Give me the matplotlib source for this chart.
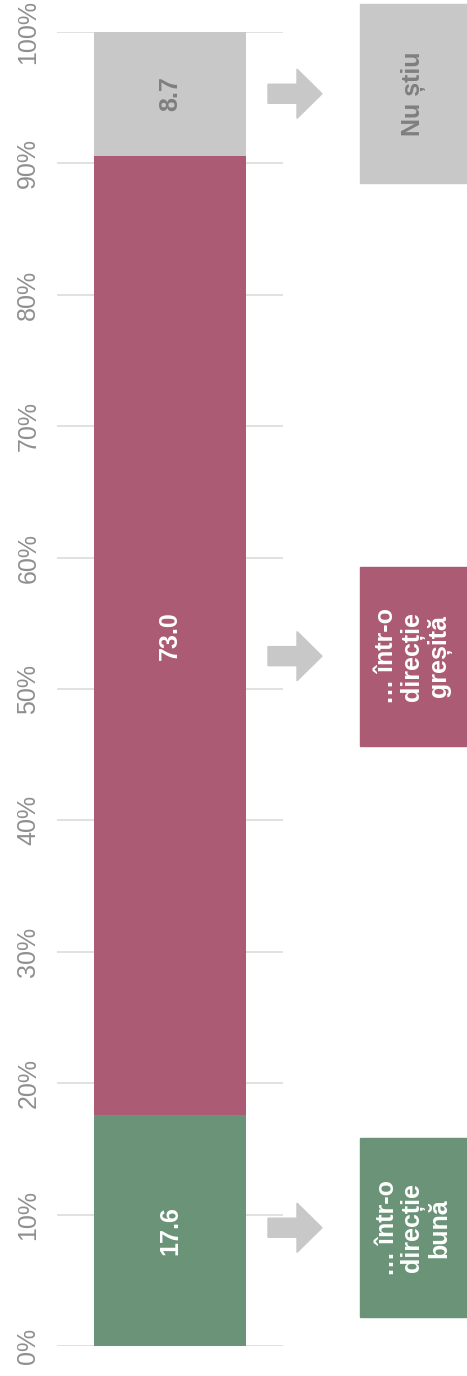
import numpy as np
import matplotlib
matplotlib.use("Agg")
import matplotlib.pyplot as plt
import matplotlib.transforms as mtransforms
from matplotlib.patches import Rectangle, FancyArrow

plt.rcParams['font.family'] = ['Liberation Sans', 'DejaVu Sans']

# data
categories = ['… într-o\ndirecție\nbună', '… într-o\ndirecție\ngreșită', 'Nu știu']
values = [17.6, 73.0, 8.7]
colors = ['#6a9378', '#ab5b74', '#c8c8c9']
value_text_colors = ['white', 'white', '#7f7f7f']
tick_values = [0, 10, 20, 30, 40, 50, 60, 70, 80, 90, 100]
tick_labels = [f'{t}%' for t in tick_values]

# layout for the callouts (y centre in data units)
callout_y = [9.0, 52.5, 95.3]

W, H = 467, 1376
fig = plt.figure(figsize=(W / 100, H / 100), dpi=100)
ax = fig.add_axes([57 / W, 1 - 1346 / H, 226 / W, (1346 - 32) / H])

bottom = 0.0
for i, (v, c) in enumerate(zip(values, colors)):
    # last segment fills up to 100%
    h = v if i < len(values) - 1 else 100 - bottom
    ax.bar(0.5, h, width=0.673, bottom=bottom, color=c, zorder=2)
    ax.text(0.5, bottom + h / 2, f'{v:.1f}', rotation=90, ha='center', va='center',
            fontsize=18, fontweight='bold', color=value_text_colors[i], zorder=3)
    bottom += h

ax.set_xlim(0, 1)
ax.set_ylim(0, 100)
ax.set_yticks(tick_values)
ax.set_yticklabels(tick_labels, rotation=90, va='center', fontsize=18, color='#8f8f8f')
ax.yaxis.grid(True, color='#dcdcdc', linewidth=1.2, zorder=0)
ax.tick_params(axis='y', length=0, pad=12)
ax.set_xticks([])
for s in ax.spines.values():
    s.set_visible(False)

# callouts: arrow + label box, x in figure fraction, y in data
trans = mtransforms.blended_transform_factory(fig.transFigure, ax.transData)
box_h = 13.6
for i, (lab, c) in enumerate(zip(categories, colors)):
    y = callout_y[i]
    arr = FancyArrow(268 / W, y, 54 / W, 0, width=1.45, head_width=3.75,
                     head_length=25 / W, length_includes_head=True,
                     color='#c8c8c9', transform=trans, clip_on=False)
    fig.add_artist(arr)
    rect = Rectangle((360 / W, y - box_h / 2), 107 / W, box_h, color=c,
                     transform=trans, clip_on=False)
    fig.add_artist(rect)
    fig.text(413 / W, 0, lab, transform=trans, rotation=90, ha='center', va='center',
             multialignment='center', fontsize=18, fontweight='bold',
             color=value_text_colors[i], linespacing=1.1).set_y(y)

fig.savefig('out.png', dpi=100)
